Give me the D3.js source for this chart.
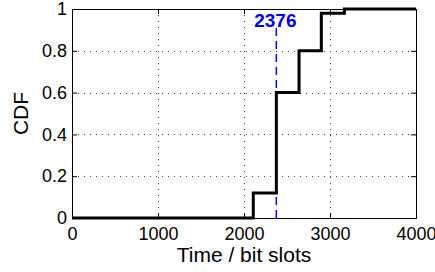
<!DOCTYPE html>
<html>
  <head>
    <meta charset="utf-8">
    <title>CDF</title>
    <style>
      body { margin: 0; background: #fff; }
      svg { display: block; font-family: "Liberation Sans", Arial, sans-serif; }
      .grid line { stroke: #444; stroke-width: 1; stroke-dasharray: 1,5; }
      .axis path, .axis line { stroke: #000; }
      .axis text { font-size: 18px; fill: #000; }
    </style>
  </head>
  <body>
    <div id="chart"></div>
    <script src="https://cdn.jsdelivr.net/npm/d3@7"></script>
    <script>
      // step points of the CDF (x = time in bit slots, y = cumulative fraction)
      var stepTimes = [0, 2108, 2376, 2640, 2899, 3167, 4000];
      var stepCdf   = [0, 0.12, 0.6, 0.8, 0.98, 1.0, 1.0];
      var markTime = 2376;
      var xTicks = [0, 1000, 2000, 3000, 4000];
      var yTicks = [0, 0.2, 0.4, 0.6, 0.8, 1];

      var width = 435, height = 272;
      var margin = {top: 9, right: 19, bottom: 54, left: 72};
      var w = width - margin.left - margin.right;
      var h = height - margin.top - margin.bottom;

      var svg = d3.select('#chart').append('svg')
        .attr('width', width)
        .attr('height', height);
      var g = svg.append('g')
        .attr('transform', 'translate(' + margin.left + ',' + margin.top + ')');

      var x = d3.scaleLinear().domain([0, 4000]).range([0, w]);
      var y = d3.scaleLinear().domain([0, 1]).range([h, 0]);

      // dotted grid
      var grid = g.append('g').attr('class', 'grid');
      grid.selectAll('.vx').data(xTicks.slice(1, -1)).enter().append('line')
        .attr('x1', function(d) { return Math.round(x(d)) + 0.5; })
        .attr('x2', function(d) { return Math.round(x(d)) + 0.5; })
        .attr('y1', 0).attr('y2', h);
      grid.selectAll('.hy').data(yTicks.slice(1, -1)).enter().append('line')
        .attr('y1', function(d) { return Math.round(y(d)) + 0.5; })
        .attr('y2', function(d) { return Math.round(y(d)) + 0.5; })
        .attr('x1', 0).attr('x2', w);

      // axes (ticks inward, MATLAB style)
      g.append('g').attr('class', 'axis')
        .attr('transform', 'translate(0,' + h + ')')
        .call(d3.axisBottom(x).tickValues(xTicks).tickSize(-5).tickPadding(9).tickFormat(d3.format('d')));
      g.append('g').attr('class', 'axis')
        .call(d3.axisLeft(y).tickValues(yTicks).tickSize(-5).tickPadding(5).tickFormat(function(d) { return d3.format('')(d); }));
      g.append('g').attr('class', 'axis')
        .call(d3.axisTop(x).tickValues(xTicks).tickSize(-5).tickFormat(''));
      g.append('g').attr('class', 'axis')
        .attr('transform', 'translate(' + w + ',0)')
        .call(d3.axisRight(y).tickValues(yTicks).tickSize(-5).tickFormat(''));

      // marker line
      g.append('line')
        .attr('x1', x(markTime)).attr('x2', x(markTime))
        .attr('y1', 19).attr('y2', h)
        .attr('stroke', '#0000ff')
        .attr('stroke-width', 1.5)
        .attr('stroke-dasharray', '8,5');

      // CDF step line
      var pts = stepTimes.map(function(t, i) { return [t, stepCdf[i]]; });
      var line = d3.line()
        .x(function(d) { return x(d[0]); })
        .y(function(d) { return y(d[1]); })
        .curve(d3.curveStepAfter);
      g.append('path')
        .datum(pts)
        .attr('d', line)
        .attr('fill', 'none')
        .attr('stroke', '#000')
        .attr('stroke-width', 3);

      g.append('text')
        .attr('x', x(markTime) - 1)
        .attr('y', 18)
        .attr('text-anchor', 'middle')
        .style('font-size', '19px')
        .style('font-weight', 'bold')
        .attr('fill', '#0000ff')
        .text(markTime);

      // axis labels
      svg.append('text')
        .attr('x', margin.left + w / 2)
        .attr('y', 262)
        .attr('text-anchor', 'middle')
        .style('font-size', '21px')
        .text('Time / bit slots');
      svg.append('text')
        .attr('transform', 'translate(28,' + (margin.top + h / 2) + ') rotate(-90)')
        .attr('text-anchor', 'middle')
        .style('font-size', '21px')
        .text('CDF');
    </script>
  </body>
</html>
